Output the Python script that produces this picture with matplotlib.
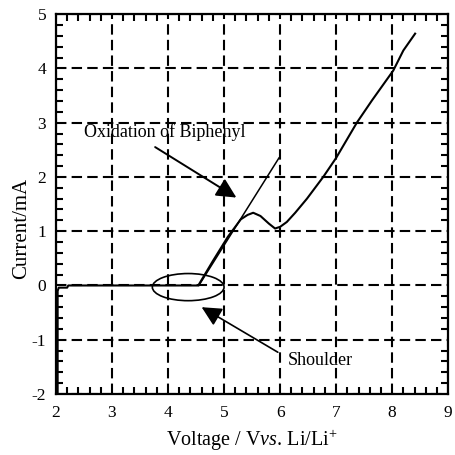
import matplotlib
matplotlib.use("Agg")
import matplotlib.pyplot as plt
from matplotlib.patches import Ellipse
from matplotlib.ticker import MultipleLocator

# Linear sweep voltammogram (current vs. potential)
voltage = [2.03, 2.03, 2.05, 2.2, 2.22, 3.7, 4.54, 4.8, 5.07, 5.3, 5.42, 5.52,
           5.65, 5.8, 5.91, 6.0, 6.12, 6.27, 6.48, 6.77, 7.0, 7.37, 7.64,
           8.02, 8.2, 8.41]
current = [-2.0, -0.1, -0.04, -0.04, 0.0, 0.0, 0.0, 0.45, 0.9, 1.22, 1.3, 1.34,
           1.28, 1.14, 1.05, 1.08, 1.17, 1.34, 1.6, 2.0, 2.35, 3.0, 3.41,
           3.96, 4.33, 4.64]

# Onset tangent for the biphenyl oxidation
tangent_v = [4.55, 5.98]
tangent_i = [0.0, 2.35]

x_ticks = [2, 3, 4, 5, 6, 7, 8, 9]
y_ticks = [-2, -1, 0, 1, 2, 3, 4, 5]

plt.rcParams["font.family"] = ["Liberation Serif", "DejaVu Serif"]
plt.rcParams["axes.unicode_minus"] = False
plt.rcParams["mathtext.fontset"] = "custom"
plt.rcParams["mathtext.rm"] = "Liberation Serif"
plt.rcParams["mathtext.it"] = "Liberation Serif:italic"

fig = plt.figure(figsize=(4.55, 4.55), dpi=100)
ax = fig.add_axes([0.123, 0.134, 0.862, 0.835])

ax.set_xlim(2, 9)
ax.set_ylim(-2, 5)
ax.set_xticks(x_ticks)
ax.set_yticks(y_ticks)
ax.xaxis.set_minor_locator(MultipleLocator(0.2))
ax.yaxis.set_minor_locator(MultipleLocator(0.2))
ax.tick_params(which="both", direction="in", top=True, right=True,
               width=1.5, colors="black", labelsize=12.5)
ax.tick_params(which="major", length=0)
ax.tick_params(axis="x", which="major", pad=8)
ax.tick_params(axis="y", which="major", pad=7)
ax.tick_params(which="minor", length=5)
for s in ax.spines.values():
    s.set_linewidth(1.6)

ax.grid(True, which="major", color="black", linewidth=1.5,
        linestyle=(0, (5, 2.5)))
ax.set_axisbelow(True)

ax.plot(voltage, current, color="black", linewidth=1.5, zorder=3)
ax.plot(tangent_v, tangent_i, color="black", linewidth=1.1, zorder=3)

ax.add_patch(Ellipse((4.36, -0.03), 1.28, 0.5, fill=False,
                     edgecolor="black", linewidth=1.2, zorder=3))

arrow_style = dict(arrowstyle="-|>,head_length=0.6,head_width=0.3",
                   color="black", lw=1.4, mutation_scale=20,
                   shrinkA=0, shrinkB=0)

ax.text(3.95, 2.82, "Oxidation of Biphenyl", ha="center", va="center",
        fontsize=13)
ax.annotate("", xy=(5.22, 1.62), xytext=(3.77, 2.55), arrowprops=arrow_style)

ax.text(6.13, -1.38, "Shoulder", ha="left", va="center", fontsize=13)
ax.annotate("", xy=(4.6, -0.4), xytext=(5.96, -1.23),
            arrowprops=dict(arrow_style, lw=1.2))

ax.set_ylabel("Current/mA", fontsize=15)
ax.yaxis.label.set_va("center")
ax.yaxis.set_label_coords(-0.087, 0.437)
ax.set_xlabel(r"Voltage / V$\it{vs}$. Li/Li$^{+}$", fontsize=14.5)
ax.xaxis.set_label_coords(0.5, -0.088)

fig.savefig("out.png", dpi=100)
